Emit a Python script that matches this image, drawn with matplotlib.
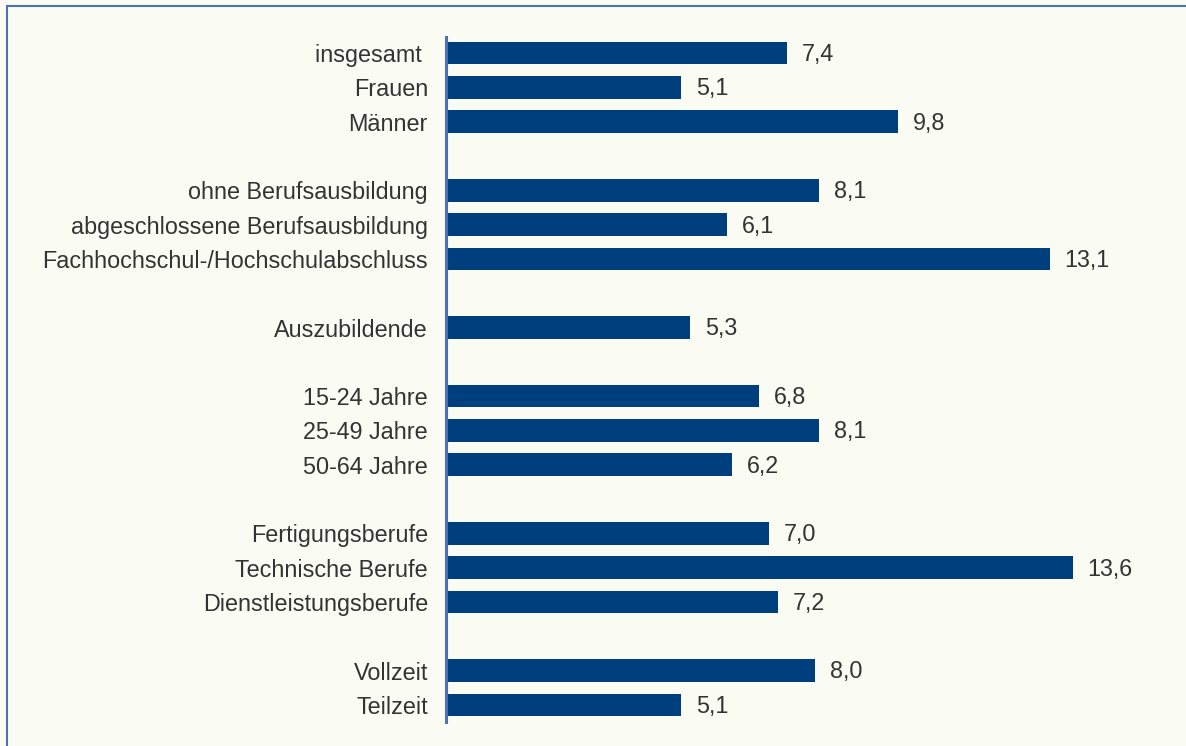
import matplotlib.pyplot as plt
from matplotlib.patches import Rectangle

# groups of categories, separated by a blank row in the chart
groups = [
    ["insgesamt ", "Frauen", "Männer"],
    ["ohne Berufsausbildung", "abgeschlossene Berufsausbildung",
     "Fachhochschul-/Hochschulabschluss"],
    ["Auszubildende"],
    ["15-24 Jahre", "25-49 Jahre", "50-64 Jahre"],
    ["Fertigungsberufe", "Technische Berufe", "Dienstleistungsberufe"],
    ["Vollzeit", "Teilzeit"],
]
group_values = [
    [7.4, 5.1, 9.8],
    [8.1, 6.1, 13.1],
    [5.3],
    [6.8, 8.1, 6.2],
    [7.0, 13.6, 7.2],
    [8.0, 5.1],
]

bg = "#fafbf3"
bar_color = "#003f7d"
line_color = "#4f70b3"
text_color = "#333333"
fs = 16.8

labels, values, ypos = [], [], []
y = 0
for names, vals in zip(groups, group_values):
    for n, v in zip(names, vals):
        labels.append(n)
        values.append(v)
        ypos.append(y)
        y += 1
    y += 1  # blank row between groups

W, H = 1186, 746
fig = plt.figure(figsize=(W / 100, H / 100), dpi=100, facecolor=bg)
fig.patches.append(Rectangle((7 / W, -0.1), 1.1, (H - 6) / H + 0.1,
                             transform=fig.transFigure, fill=False,
                             edgecolor=line_color, linewidth=1.5))

left = 446 / W
width = 46.1 * 15 / W
ax = fig.add_axes([left, (H - 722) / H, width, 685 / H])
ax.set_facecolor(bg)

ax.barh(ypos, values, height=0.66, color=bar_color)
for yy, v in zip(ypos, values):
    ax.text(v + 0.32, yy + 0.04, f"{v:.1f}".replace(".", ","), va="center", ha="left",
            fontsize=fs, color=text_color, family="Liberation Sans")

ax.set_xlim(0, 15)
ax.set_ylim(19.5, -0.47)
ax.set_yticks(ypos)
ax.set_yticklabels(labels, fontsize=fs, color=text_color, family="Liberation Sans")
ax.tick_params(axis="y", length=0, pad=13)
ax.set_xticks([])
for s in ["top", "right", "bottom"]:
    ax.spines[s].set_visible(False)
ax.spines["left"].set_color(line_color)
ax.spines["left"].set_linewidth(2.2)

fig.savefig("out.png", dpi=100, facecolor=bg)
